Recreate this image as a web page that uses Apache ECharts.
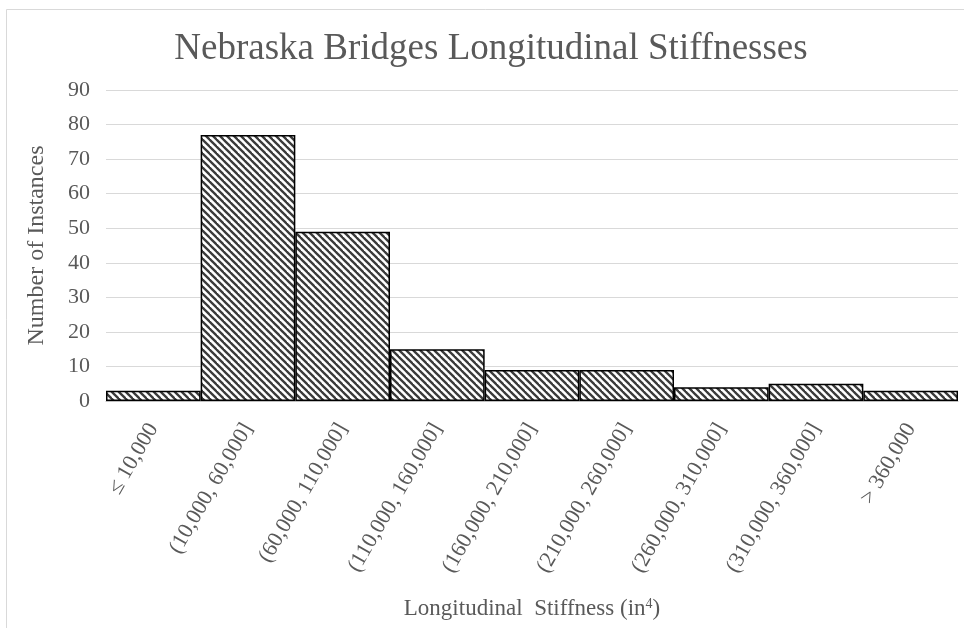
<!DOCTYPE html>
<html>
<head>
<meta charset="utf-8">
<script src="https://cdn.jsdelivr.net/npm/echarts@6/dist/echarts.min.js"></script>
<style>
  html, body { margin: 0; padding: 0; background: #fff; }
  #chart { width: 964px; height: 628px; }
</style>
</head>
<body>
<div id="chart"></div>
<script>
// Stiffness bins and the number of bridges falling in each one
const categories = [
  '\u2264 10,000',
  '(10,000, 60,000]',
  '(60,000, 110,000]',
  '(110,000, 160,000]',
  '(160,000, 210,000]',
  '(210,000, 260,000]',
  '(260,000, 310,000]',
  '(310,000, 360,000]',
  '> 360,000'
];
const counts = [3, 77, 49, 15, 9, 9, 4, 5, 3];
const yTicks = [0, 10, 20, 30, 40, 50, 60, 70, 80, 90];

const serif = '"Liberation Serif", "Times New Roman", serif';
const textGray = '#595959';

// Diagonal hatch fill (top-left to bottom-right strokes)
function hatchPattern() {
  const s = 7;
  const c = document.createElement('canvas');
  c.width = s; c.height = s;
  const g = c.getContext('2d');
  g.fillStyle = '#ffffff';
  g.fillRect(0, 0, s, s);
  g.strokeStyle = '#3a3a3a';
  g.lineWidth = 2.3;
  g.lineCap = 'square';
  [-s, 0, s].forEach((ox) => {
    g.beginPath();
    g.moveTo(ox, 0);
    g.lineTo(ox + s, s);
    g.stroke();
  });
  return c;
}

const chart = echarts.init(document.getElementById('chart'), null, { renderer: 'canvas' });

chart.setOption({
  backgroundColor: '#ffffff',
  animation: false,
  title: {
    text: 'Nebraska Bridges Longitudinal Stiffnesses',
    left: 486,
    textAlign: 'center',
    top: 26,
    textStyle: { fontFamily: serif, fontSize: 37, fontWeight: 'normal', color: textGray }
  },
  graphic: [{
    type: 'rect',
    shape: { x: 6.5, y: 9.5, width: 1000, height: 700 },
    style: { fill: null, stroke: '#d9d9d9', lineWidth: 1 },
    silent: true,
    z: -1
  }],
  grid: { left: 106, right: 6, top: 90, bottom: 227 },
  xAxis: {
    type: 'category',
    data: categories,
    axisLine: { show: true, lineStyle: { color: '#bfbfbf', width: 1 } },
    axisTick: { show: false },
    axisLabel: {
      rotate: 60,
      margin: 24,
      interval: 0,
      fontFamily: serif,
      fontSize: 22,
      color: textGray
    },
    name: '{t|Longitudinal  Stiffness (in}{s|4}{t|)}',
    nameLocation: 'middle',
    nameGap: 196,
    nameTextStyle: {
      rich: {
        t: { fontFamily: serif, fontSize: 23, color: textGray },
        s: { fontFamily: serif, fontSize: 14, color: textGray, verticalAlign: 'top', padding: [0, 0, 10, 0] }
      }
    }
  },
  yAxis: {
    type: 'value',
    min: yTicks[0],
    max: yTicks[yTicks.length - 1],
    interval: yTicks[1] - yTicks[0],
    axisLine: { show: false },
    axisTick: { show: false },
    splitLine: { lineStyle: { color: '#d9d9d9', width: 1 } },
    axisLabel: { margin: 16, fontFamily: serif, fontSize: 22, color: textGray },
    name: 'Number of Instances',
    nameLocation: 'middle',
    nameGap: 57,
    nameTextStyle: { fontFamily: serif, fontSize: 24, color: textGray }
  },
  series: [{
    type: 'bar',
    data: counts,
    barCategoryGap: '0%',
    itemStyle: {
      color: { image: hatchPattern(), repeat: 'repeat' },
      borderColor: '#000000',
      borderWidth: 1.5
    }
  }]
});
</script>
</body>
</html>
